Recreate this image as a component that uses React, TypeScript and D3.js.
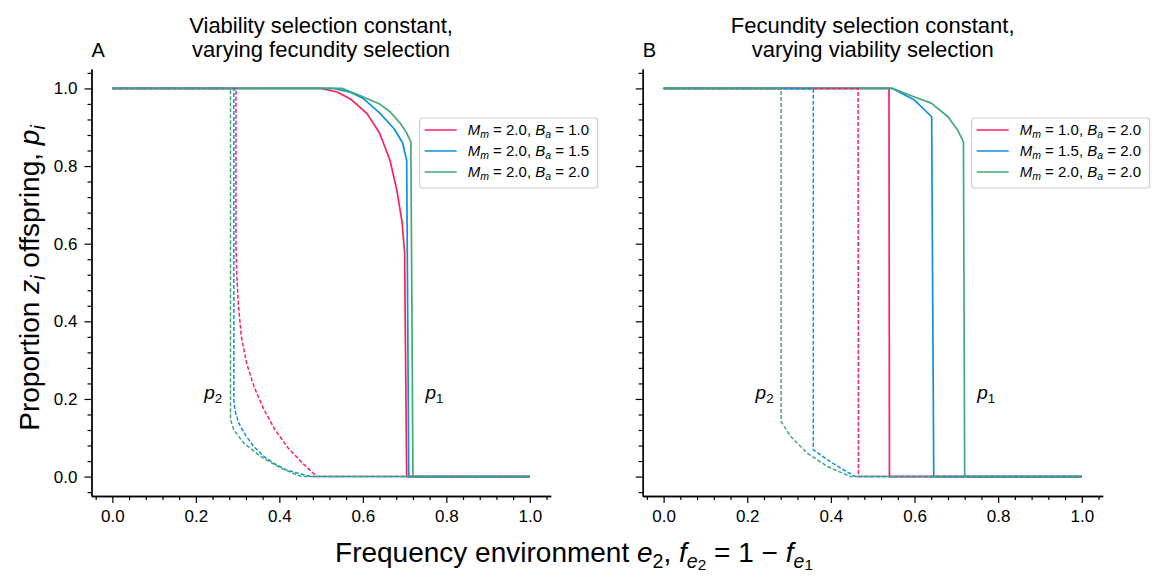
import React, { useRef, useEffect } from 'react';
import * as d3 from 'd3';

// colours for the three parameter sets
const colors = ['#ff1f5b', '#0f8fe0', '#42a97a'];

// ticks
const majorTicks = [0, 0.2, 0.4, 0.6, 0.8, 1.0];
const minorTicks = [-0.04, 0.04, 0.08, 0.12, 0.16, 0.24, 0.28, 0.32, 0.36, 0.44, 0.48, 0.52, 0.56, 0.64, 0.68, 0.72, 0.76, 0.84, 0.88, 0.92, 0.96, 1.04];

// panel A: p1 (solid)
const xA1Pink = [0, 0.50, 0.54, 0.57, 0.61, 0.64, 0.665, 0.682, 0.694, 0.700, 0.705, 1.0];
const pA1Pink = [1, 1, 0.99, 0.973, 0.935, 0.885, 0.815, 0.735, 0.655, 0.578, 0, 0];
const xA1Blue = [0, 0.53, 0.57, 0.60, 0.64, 0.675, 0.695, 0.705, 0.710, 1.0];
const pA1Blue = [1, 1, 0.99, 0.975, 0.937, 0.896, 0.86, 0.815, 0, 0];
const xA1Green = [0, 0.55, 0.59, 0.64, 0.665, 0.69, 0.705, 0.715, 0.720, 1.0];
const pA1Green = [1, 1, 0.983, 0.96, 0.94, 0.91, 0.885, 0.862, 0, 0];
// panel A: p2 (dashed)
const xA2Pink = [0, 0.296, 0.296, 0.298, 0.302, 0.309, 0.322, 0.34, 0.362, 0.39, 0.42, 0.455, 0.49, 1.0];
const pA2Pink = [1, 1, 0.60, 0.52, 0.44, 0.36, 0.29, 0.23, 0.175, 0.12, 0.075, 0.035, 0, 0];
const xA2Blue = [0, 0.291, 0.291, 0.295, 0.303, 0.32, 0.339, 0.365, 0.387, 0.415, 0.443, 0.475, 1.0];
const pA2Blue = [1, 1, 0.19, 0.165, 0.137, 0.105, 0.077, 0.05, 0.034, 0.018, 0.009, 0, 0];
const xA2Green = [0, 0.283, 0.283, 0.291, 0.315, 0.355, 0.403, 0.443, 0.455, 1.0];
const pA2Green = [1, 1, 0.146, 0.12, 0.086, 0.052, 0.022, 0.004, 0, 0];

// panel B: p1 (solid)
const xB1Pink = [0, 0.539, 0.540, 1.0];
const pB1Pink = [1, 1, 0, 0];
const xB1Blue = [0, 0.547, 0.60, 0.641, 0.646, 1.0];
const pB1Blue = [1, 1, 0.97, 0.927, 0, 0];
const xB1Green = [0, 0.547, 0.60, 0.64, 0.68, 0.703, 0.717, 0.720, 1.0];
const pB1Green = [1, 1, 0.978, 0.962, 0.927, 0.893, 0.862, 0, 0];
// panel B: p2 (dashed)
const xB2Pink = [0, 0.465, 0.466, 1.0];
const pB2Pink = [1, 1, 0, 0];
const xB2Blue = [0, 0.358, 0.358, 0.392, 0.431, 0.459, 1.0];
const pB2Blue = [1, 1, 0.069, 0.043, 0.017, 0, 0];
const xB2Green = [0, 0.281, 0.281, 0.304, 0.344, 0.392, 0.447, 1.0];
const pB2Green = [1, 1, 0.142, 0.103, 0.06, 0.026, 0, 0];

// legend values [M_m, B_a]
const legendA = [['2.0', '1.0'], ['2.0', '1.5'], ['2.0', '2.0']];
const legendB = [['1.0', '2.0'], ['1.5', '2.0'], ['2.0', '2.0']];

const titlesA = ['Viability selection constant,', 'varying fecundity selection'];
const titlesB = ['Fecundity selection constant,', 'varying viability selection'];

const FONT = '"Liberation Sans", Arial, Helvetica, sans-serif';

const zip = (xs, ps) => xs.map((x, i) => [x, ps[i]]);

// text with italics and sub/subsub scripts
const richText = (sel, parts, fs, offs = [0, 0.22, 0.4]) => {
  let prev = 0;
  parts.forEach((p) => {
    const lvl = p.sub || 0;
    const off = offs[lvl] * fs;
    sel.append('tspan')
      .attr('dy', off - prev)
      .style('font-size', [1, 0.7, 0.55][lvl] * fs + 'px')
      .style('font-style', p.it ? 'italic' : 'normal')
      .text(p.t);
    prev = off;
  });
};

const App = () => {
  const svgRef = useRef();

  const drawPanel = (svg, left, right, letter, titles, solids, dashes, legend) => {
    const x = d3.scaleLinear().domain([-0.05, 1.05]).range([left, right]);
    const y = d3.scaleLinear().domain([-0.05, 1.05]).range([496, 69]);
    const g = svg.append('g');

    const styleAxis = (a) => {
      a.selectAll('path.domain').attr('stroke', '#000').attr('stroke-width', 1.3);
      a.selectAll('.tick line').attr('stroke', '#000').attr('stroke-width', 1.2);
      a.selectAll('.tick text').attr('fill', '#000').style('font-family', FONT).style('font-size', '17px');
    };

    // x axis
    const xMinor = g.append('g').attr('transform', 'translate(0,496)')
      .call(d3.axisBottom(x).tickValues(minorTicks).tickSize(4).tickSizeOuter(0).tickFormat(() => ''));
    styleAxis(xMinor);
    const xMajor = g.append('g').attr('transform', 'translate(0,496)')
      .call(d3.axisBottom(x).tickValues(majorTicks).tickSize(7).tickPadding(7).tickSizeOuter(0).tickFormat(d3.format('.1f')));
    styleAxis(xMajor);

    // y axis
    const yMinor = g.append('g').attr('transform', `translate(${left},0)`)
      .call(d3.axisLeft(y).tickValues(minorTicks).tickSize(4).tickSizeOuter(0).tickFormat(() => ''));
    styleAxis(yMinor);
    const yMajor = g.append('g').attr('transform', `translate(${left},0)`)
      .call(d3.axisLeft(y).tickValues(majorTicks).tickSize(7).tickPadding(7).tickSizeOuter(0)
        .tickFormat(letter === 'A' ? d3.format('.1f') : () => ''));
    styleAxis(yMajor);

    const line = d3.line().x((d) => x(d[0])).y((d) => y(d[1]));

    solids.forEach((s, i) => {
      g.append('path').datum(s).attr('d', line).attr('fill', 'none')
        .attr('stroke', colors[i]).attr('stroke-width', 1.7).attr('stroke-linejoin', 'round');
    });
    dashes.forEach((s, i) => {
      g.append('path').datum(s).attr('d', line).attr('fill', 'none')
        .attr('stroke', colors[i]).attr('stroke-width', 1.5).attr('stroke-dasharray', '4,2');
    });

    // p labels
    [[0.22, '2'], [0.75, '1']].forEach(([vx, n]) => {
      const t = g.append('text').attr('x', x(vx)).attr('y', y(0.2))
        .style('font-family', FONT).style('white-space', 'pre');
      richText(t, [{ t: 'p', it: true }, { t: n, sub: 1 }], 19);
    });

    // titles
    const cx = (left + right) / 2;
    titles.forEach((tt, i) => {
      g.append('text').attr('x', cx).attr('y', 33 + i * 24).attr('text-anchor', 'middle')
        .style('font-family', FONT).style('font-size', '22px').text(tt);
    });
    g.append('text').attr('x', left).attr('y', 57)
      .style('font-family', FONT).style('font-size', '20px').text(letter);

    // legend
    const lx = right - 131;
    g.append('rect').attr('x', lx).attr('y', 118).attr('width', 178).attr('height', 70)
      .attr('rx', 3).attr('fill', '#fff').attr('fill-opacity', 0.8)
      .attr('stroke', '#d0d0d0').attr('stroke-width', 1.2);
    legend.forEach(([m, b], i) => {
      const ly = 130 + i * 21;
      g.append('line').attr('x1', lx + 5).attr('x2', lx + 37).attr('y1', ly).attr('y2', ly)
        .attr('stroke', colors[i]).attr('stroke-width', 1.7);
      const t = g.append('text').attr('x', lx + 48).attr('y', ly + 5)
        .style('font-family', FONT).style('white-space', 'pre');
      richText(t, [
        { t: 'M', it: true }, { t: 'm', it: true, sub: 1 }, { t: ' = ' + m + ', ' },
        { t: 'B', it: true }, { t: 'a', it: true, sub: 1 }, { t: ' = ' + b },
      ], 15);
    });
  };

  const drawChart = (div) => {
    const svg = d3.select(div).attr('width', 1163).attr('height', 578);
    svg.selectAll('*').remove();
    svg.append('rect').attr('width', 1163).attr('height', 578).attr('fill', '#fff');

    drawPanel(svg, 91.5, 550.7, 'A', titlesA,
      [zip(xA1Pink, pA1Pink), zip(xA1Blue, pA1Blue), zip(xA1Green, pA1Green)],
      [zip(xA2Pink, pA2Pink), zip(xA2Blue, pA2Blue), zip(xA2Green, pA2Green)],
      legendA);
    drawPanel(svg, 642.7, 1102.7, 'B', titlesB,
      [zip(xB1Pink, pB1Pink), zip(xB1Blue, pB1Blue), zip(xB1Green, pB1Green)],
      [zip(xB2Pink, pB2Pink), zip(xB2Blue, pB2Blue), zip(xB2Green, pB2Green)],
      legendB);

    // y axis label
    const yl = svg.append('text').attr('transform', 'translate(39,278) rotate(-90)')
      .attr('text-anchor', 'middle').style('font-family', FONT).style('white-space', 'pre');
    richText(yl, [
      { t: 'Proportion ' }, { t: 'z', it: true }, { t: 'i', it: true, sub: 1 },
      { t: ' offspring, ' }, { t: 'p', it: true }, { t: 'i', it: true, sub: 1 },
    ], 28);

    // x axis label
    const xl = svg.append('text').attr('x', 574).attr('y', 562)
      .attr('text-anchor', 'middle').style('font-family', FONT).style('white-space', 'pre');
    richText(xl, [
      { t: 'Frequency environment ' }, { t: 'e', it: true }, { t: '2', sub: 1 }, { t: ', ' },
      { t: 'f', it: true }, { t: 'e', it: true, sub: 1 }, { t: '2', sub: 2 }, { t: ' = 1 \u2212 ' },
      { t: 'f', it: true }, { t: 'e', it: true, sub: 1 }, { t: '1', sub: 2 },
    ], 28, [0, 0.2, 0.3]);
  };

  useEffect(() => {
    if (svgRef.current) {
      drawChart(svgRef.current);
    }
  }, [svgRef]);

  return (
    <div style={{ position: 'absolute', left: 0, top: 0 }}>
      <svg ref={svgRef} style={{ display: 'block' }} />
    </div>
  );
};

export default App;
